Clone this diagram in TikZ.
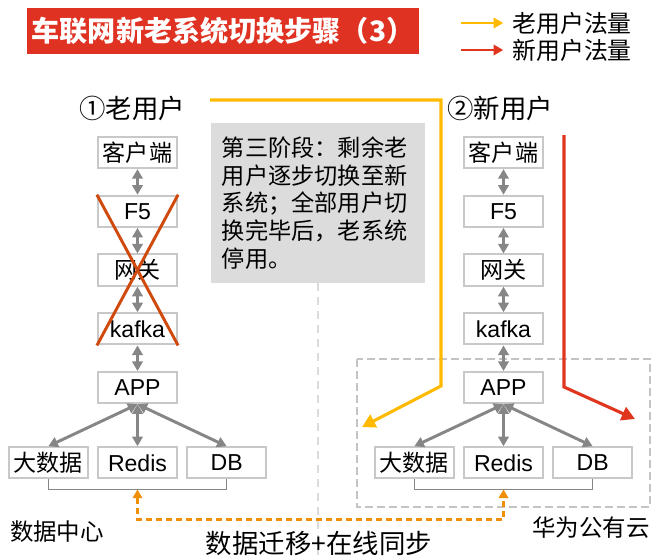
\documentclass[tikz,border=0pt]{standalone}
\usepackage{fontspec}
\setmainfont{Liberation Sans}
\newfontfamily\cjk{Noto Sans CJK SC}
\usetikzlibrary{positioning,arrows.meta}
\definecolor{titlered}{HTML}{E03222}
\definecolor{oldflow}{HTML}{FFBA00}
\definecolor{newflow}{HTML}{E0361E}
\definecolor{syncorange}{HTML}{F0900A}
\definecolor{crossred}{HTML}{CF4A0C}
\definecolor{boxgray}{HTML}{C8C8C8}
\definecolor{linkgray}{HTML}{868686}
\definecolor{notegray}{HTML}{DCDCDC}
\definecolor{zonegray}{HTML}{C4C4C4}
\tikzset{
  sysbox/.style={rectangle,draw=boxgray,line width=1.4pt,fill=white,minimum width=1.98cm,minimum height=0.78cm,
                 inner sep=0,font=\fontsize{16.4pt}{19pt}\selectfont},
  zhbox/.style={sysbox,font=\fontsize{16.4pt}{19pt}\selectfont\cjk},
  titlebar/.style={rectangle,fill=titlered,text=white,minimum width=9.75cm,minimum height=1.15cm,
                   font=\fontsize{20pt}{24pt}\selectfont\cjk\bfseries},
  heading/.style={font=\fontsize{18.8pt}{22pt}\selectfont\cjk,inner sep=0},
  zhlabel/.style={font=\fontsize{16.7pt}{20pt}\selectfont\cjk,inner sep=0},
  keylabel/.style={font=\fontsize{17pt}{20pt}\selectfont\cjk,anchor=west,inner sep=0},
  % the grey note, lines are broken by hand
  note/.style={rectangle,fill=notegray,text width=4.8cm,inner xsep=0.275cm,minimum height=4cm,align=left,
               font=\fontsize{16.5pt}{19.6pt}\selectfont\cjk},
  link/.style={{Triangle[length=2.4mm,width=2.6mm]}-{Triangle[length=2.4mm,width=2.6mm]},line width=2.1pt,linkgray},
  bracket/.style={line width=1.1pt,linkgray},
  sync/.style={{Triangle[length=2.2mm,width=2.4mm]}-{Triangle[length=2.2mm,width=2.4mm]},line width=1.8pt,
               syncorange,dash pattern=on 0.15cm off 0.1cm},
  flow/.style={-{Triangle[length=3.3mm,width=3.5mm]},line width=2.2pt},
  keyarrow/.style={-{Triangle[length=2.4mm,width=2.6mm]},line width=1.5pt},
  cross/.style={line width=2.1pt,crossred},
  zone/.style={line width=1.1pt,zonegray,dash pattern=on 0.2cm off 0.1cm},
  divider/.style={line width=1.4pt,notegray,dash pattern=on 0.2cm off 0.15cm},
}

\begin{document}
\begin{tikzpicture}[x=0.025cm,y=-0.025cm]
  \useasboundingbox (0,0) rectangle (652,555);
  % one system column: entry boxes down to the APP, then the three stores under it
  \newcommand{\sysstack}[2]{% #1 = x of the column, #2 = prefix of the node names
    \node[zhbox] (#2client) at (#1,152.5) {客户端};
    \node[sysbox,below=0.64cm of #2client] (#2ffive) {F5};
    \node[zhbox,below=0.64cm of #2ffive] (#2gate) {网关};
    \node[sysbox,below=0.64cm of #2gate] (#2kafka) {kafka};
    \node[sysbox,below=0.64cm of #2kafka] (#2app) {APP};
    \node[sysbox,below=1.05cm of #2app] (#2redis) {Redis};
    \node[zhbox,left=0.2cm of #2redis] (#2big) {大数据};
    \node[sysbox,right=0.2cm of #2redis] (#2db) {DB};
    \foreach \a/\b in {client/ffive,ffive/gate,gate/kafka,kafka/app}
      \draw[link] (#2\a) -- (#2\b);
    \foreach \b in {big,redis,db}
      \draw[link] (#2app.south) -- (#2\b.north);
    \draw[bracket] (#2big.south) -- ++(0,10) coordinate (#2bl) -| (#2db.south);
  }

  \node[titlebar] (title) at (223,31) {车联网新老系统切换步骤（3）};
  \node[keylabel] (oldkey) at (512,23) {老用户法量};
  \node[keylabel] (newkey) at (512,50) {新用户法量};
  \draw[keyarrow,oldflow] ([xshift=-1.28cm]oldkey.west) -- ([xshift=-0.22cm]oldkey.west);
  \draw[keyarrow,newflow] ([xshift=-1.28cm]newkey.west) -- ([xshift=-0.22cm]newkey.west);

  \node[heading] (oldhead) at (132,108) {①老用户};
  \node[heading] (newhead) at (500,108) {②新用户};

  \node[note] (note) at (318,203) {第三阶段：剩余老\\用户逐步切换至新\\系统；全部用户切\\换完毕后，老系统\\停用。};
  \coordinate (floor) at (318,555);
  \draw[divider] (note.south) -- (floor);

  \draw[zone] (357,359) rectangle (650,507);

  \sysstack{137.5}{l}
  \sysstack{503.5}{r}

  % the old system is switched off
  \draw[cross] (lffive.north west) -- (lkafka.south east);
  \draw[cross] (lffive.north east) -- (lkafka.south west);

  % user traffic
  \coordinate (oldin) at (210,100);
  \coordinate (oldout) at (362,427);
  \draw[flow,oldflow] (oldin) -- (441,100) -- (441,386) -- (oldout);
  \coordinate (newin) at (564,135);
  \coordinate (newout) at (635,419);
  \draw[flow,newflow] (newin) -- (564,387) -- (newout);

  \draw[sync] (lredis.south |- lbl) -- ++(0,30) -| (rredis.south |- rbl);

  \node[zhlabel] (dclabel) at (57,532) {数据中心};
  \node[zhlabel] (cloudlabel) at (591,528) {华为公有云};
  \node[heading] (synclabel) at (319,543) {数据迁移+在线同步};
\end{tikzpicture}
\end{document}
